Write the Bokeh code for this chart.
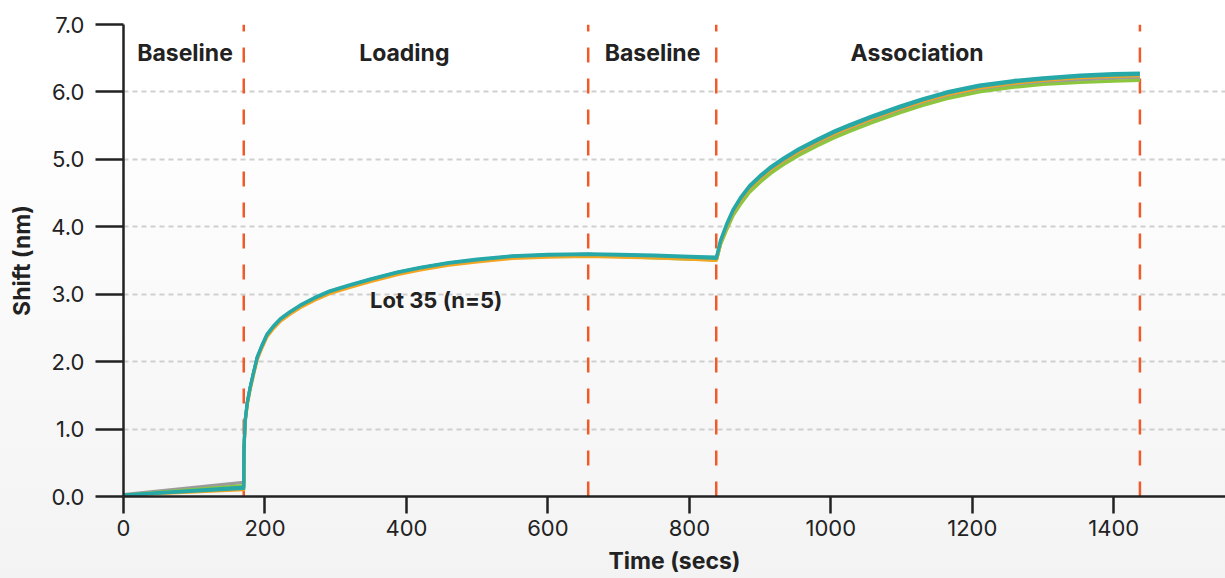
from bokeh.plotting import figure
from bokeh.models import ColumnDataSource, FixedTicker, CustomJSTickFormatter, Range1d
from bokeh.core.properties import value
from bokeh.embed import file_html
from bokeh.resources import INLINE

# ---- data ----
time_s = [0, 170, 170.3, 172, 175, 179, 184, 189, 196, 203, 212, 222, 235, 250, 270, 292,
          320, 350, 387, 420, 460, 500, 550, 600, 657, 700, 750, 800, 838, 839, 844, 853,
          862, 872, 885, 900, 915, 933, 955, 981, 1005, 1028, 1060, 1098, 1130, 1164, 1210,
          1259, 1300, 1353, 1400, 1437]

gray_vals = [0.03, 0.21, 0.72, 1.12, 1.39, 1.61, 1.84, 2.06, 2.24, 2.40, 2.52, 2.63, 2.73, 2.83,
             2.94, 3.04, 3.13, 3.22, 3.32, 3.39, 3.46, 3.51, 3.56, 3.58, 3.59, 3.57, 3.55, 3.53,
             3.51, 3.54, 3.75, 3.99, 4.20, 4.37, 4.55, 4.70, 4.83, 4.96, 5.10, 5.24, 5.36, 5.46,
             5.59, 5.73, 5.84, 5.94, 6.04, 6.10, 6.14, 6.18, 6.20, 6.21]
green_vals = [0.02, 0.16, 0.70, 1.11, 1.38, 1.60, 1.83, 2.05, 2.23, 2.39, 2.51, 2.62, 2.72, 2.82,
              2.93, 3.03, 3.12, 3.21, 3.31, 3.38, 3.45, 3.50, 3.55, 3.57, 3.58, 3.56, 3.54, 3.52,
              3.51, 3.53, 3.73, 3.96, 4.17, 4.33, 4.51, 4.66, 4.79, 4.92, 5.06, 5.20, 5.32, 5.42,
              5.55, 5.69, 5.80, 5.90, 6.00, 6.07, 6.11, 6.14, 6.16, 6.17]
orange_vals = [0.02, 0.10, 0.66, 1.09, 1.36, 1.58, 1.81, 2.03, 2.21, 2.37, 2.49, 2.60, 2.70, 2.80,
               2.91, 3.01, 3.10, 3.19, 3.29, 3.36, 3.43, 3.48, 3.53, 3.55, 3.56, 3.55, 3.54, 3.52,
               3.50, 3.53, 3.76, 4.01, 4.22, 4.39, 4.57, 4.72, 4.85, 4.98, 5.12, 5.26, 5.38, 5.48,
               5.61, 5.75, 5.86, 5.96, 6.06, 6.13, 6.17, 6.21, 6.23, 6.24]
teal2_vals = [0.02, 0.12, 0.68, 1.12, 1.39, 1.61, 1.84, 2.06, 2.24, 2.40, 2.52, 2.63, 2.73, 2.83,
              2.94, 3.04, 3.13, 3.22, 3.32, 3.39, 3.46, 3.51, 3.56, 3.58, 3.59, 3.58, 3.57, 3.55,
              3.53, 3.56, 3.78, 4.03, 4.24, 4.41, 4.59, 4.74, 4.87, 5.00, 5.14, 5.28, 5.40, 5.50,
              5.63, 5.77, 5.88, 5.98, 6.08, 6.15, 6.19, 6.23, 6.25, 6.26]
teal_vals = [0.02, 0.14, 0.70, 1.13, 1.40, 1.62, 1.85, 2.07, 2.25, 2.41, 2.53, 2.64, 2.74, 2.84,
             2.95, 3.05, 3.14, 3.23, 3.33, 3.40, 3.47, 3.52, 3.57, 3.59, 3.60, 3.59, 3.58, 3.56,
             3.55, 3.58, 3.80, 4.05, 4.26, 4.43, 4.61, 4.76, 4.89, 5.02, 5.16, 5.30, 5.42, 5.52,
             5.65, 5.79, 5.90, 6.00, 6.10, 6.17, 6.21, 6.25, 6.27, 6.28]

series_colors = ["#9b9b9b", "#8cc63f", "#f4a522", "#2fa9a0", "#26a8a8"]

phase_bounds = [170, 657, 838, 1437]
phase_names = ["Baseline", "Loading", "Baseline", "Association"]
phase_label_x = [87, 397, 748, 1122]
phase_label_y = [6.57, 6.57, 6.57, 6.57]

note_text = ["Lot 35 (n=5)"]
note_x = [442]
note_y = [2.91]

x_ticks = [0, 200, 400, 600, 800, 1000, 1200, 1400]
y_ticks = [0, 1, 2, 3, 4, 5, 6, 7]

FONT = "Inter"
INK = "#222222"

p = figure(width=1225, height=578, output_backend="svg", toolbar_location=None,
           x_range=Range1d(0, 1558), y_range=Range1d(0, 7),
           min_border_left=123, min_border_right=0, min_border_top=24, min_border_bottom=82)
p.background_fill_color = None
p.border_fill_color = None
p.outline_line_color = None
p.styles = {"background": "linear-gradient(to bottom, #ffffff 15%, #f3f3f3 100%)"}

# grid
p.xgrid.grid_line_color = None
p.ygrid.ticker = FixedTicker(ticks=y_ticks)
p.ygrid.grid_line_color = "#cfcfcf"
p.ygrid.grid_line_width = 2
p.ygrid.grid_line_dash = "5 4"

# axes
p.xaxis.ticker = FixedTicker(ticks=x_ticks)
p.yaxis.ticker = FixedTicker(ticks=y_ticks)
p.yaxis.formatter = CustomJSTickFormatter(code="return tick.toFixed(1);")
for ax in (p.xaxis[0], p.yaxis[0]):
    ax.axis_line_color = INK
    ax.axis_line_width = 2.5
    ax.major_tick_line_color = INK
    ax.major_tick_line_width = 2.5
    ax.major_tick_in = 0
    ax.minor_tick_line_color = None
    ax.major_label_text_font = FONT
    ax.major_label_text_font_size = "22px"
    ax.major_label_text_color = INK
    ax.axis_label_text_font = FONT
    ax.axis_label_text_font_size = "23px"
    ax.axis_label_text_font_style = "bold"
    ax.axis_label_text_color = INK
p.xaxis.major_tick_out = 17
p.yaxis.major_tick_out = 28
p.xaxis.major_label_standoff = 6
p.yaxis.major_label_standoff = 11
p.xaxis.axis_label = "Time (secs)"
p.yaxis.axis_label = "Shift (nm)"
p.xaxis.axis_label_standoff = 8
p.yaxis.axis_label_standoff = 12

# phase boundaries
seg = ColumnDataSource(dict(x=phase_bounds, y0=[0] * len(phase_bounds), y1=[7] * len(phase_bounds)))
p.segment(x0="x", x1="x", y0="y0", y1="y1", source=seg, line_color="#f05a28",
          line_width=2.5, line_dash="15 16")

# curves
for vals, col in zip([gray_vals, green_vals, orange_vals, teal2_vals, teal_vals], series_colors):
    p.line(time_s, vals, line_color=col, line_width=3.2, line_join="round")

# phase labels
lab = ColumnDataSource(dict(x=phase_label_x, y=phase_label_y, t=phase_names))
p.text(x="x", y="y", text="t", source=lab, text_font=value(FONT), text_font_style="bold",
       text_font_size="23px", text_color=INK, text_align="center", text_baseline="middle")

note = ColumnDataSource(dict(x=note_x, y=note_y, t=note_text))
p.text(x="x", y="y", text="t", source=note, text_font=value(FONT), text_font_style="bold",
       text_font_size="22px", text_color=INK, text_align="center", text_baseline="middle")

open("out.html", "w").write(file_html(p, INLINE))
